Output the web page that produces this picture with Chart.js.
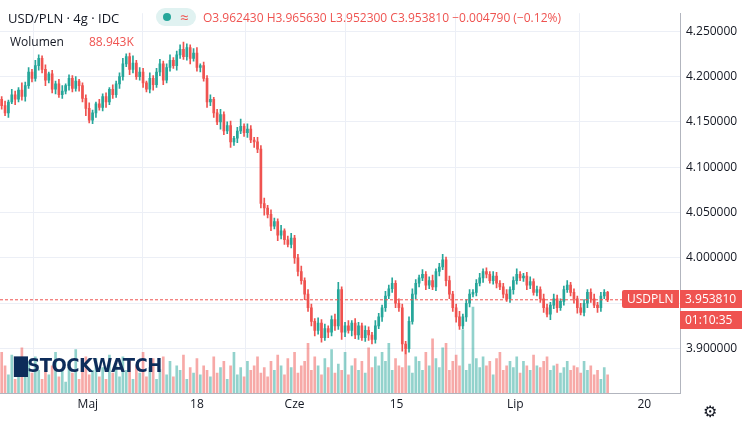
<!DOCTYPE html>
<html><head><meta charset="utf-8">
<script src="https://cdn.jsdelivr.net/npm/chart.js@4"></script>
<style>
body{margin:0;width:742px;height:422px;overflow:hidden;background:#fff;font-family:"Open Sans",Roboto,sans-serif;position:relative}
#c{position:absolute;left:0;top:0}
.t{position:absolute;font-size:12px;white-space:nowrap}
.tag{position:absolute;color:#fff;font-size:12px;background:#ef5350;height:18px;line-height:18px;padding:0 5px}
</style></head><body>
<canvas id="c" width="742" height="422"></canvas>
<div class="t" style="left:8px;top:9px;font-size:13px;color:#131722">USD/PLN · 4g · IDC</div>
<div class="t" style="left:156px;top:8px;width:40px;height:18px;background:#e0f2f1;border-radius:9px"></div>
<div class="t" style="left:163px;top:13px;width:8px;height:8px;border-radius:50%;background:#26a69a"></div>
<div class="t" style="left:180px;top:7px;color:#ef5350;font-size:15px">≈</div>
<div class="t" style="left:203px;top:9px;color:#ef5350">O3.962430 H3.965630 L3.952300 C3.953810 −0.004790 (−0.12%)</div>
<div class="t" style="left:10px;top:33px;color:#131722">Wolumen</div>
<div class="t" style="left:89px;top:33px;color:#ef5350">88.943K</div>
<div class="t" style="left:14px;top:353px;font-size:20px;font-weight:bold;color:#0d2c5a;font-family:'Liberation Sans Narrow','DejaVu Sans Condensed',sans-serif;letter-spacing:-0.5px">▇STOCKWATCH</div>
<div class="tag" style="left:622px;top:290px;border-radius:2px 0 0 2px">USDPLN</div>
<div class="tag" style="left:680px;top:290px;width:52px">3.953810</div>
<div class="tag" style="left:680px;top:311px;width:52px">01:10:35</div>
<div class="t" style="left:703px;top:400px;font-size:16px;color:#131722">⚙</div>
<script>
const closes=[4.168,4.160,4.172,4.180,4.175,4.185,4.178,4.190,4.205,4.198,
4.212,4.220,4.208,4.196,4.203,4.186,4.192,4.180,4.184,4.190,
4.198,4.187,4.195,4.190,4.176,4.165,4.152,4.160,4.170,4.166,
4.178,4.172,4.186,4.180,4.192,4.200,4.214,4.222,4.208,4.215,
4.200,4.205,4.193,4.186,4.198,4.191,4.205,4.214,4.196,4.210,
4.218,4.212,4.224,4.230,4.222,4.232,4.220,4.226,4.210,4.212,
4.198,4.172,4.175,4.160,4.150,4.158,4.140,4.146,4.128,4.132,
4.140,4.145,4.138,4.142,4.130,4.128,4.120,4.060,4.055,4.048,
4.035,4.040,4.025,4.030,4.020,4.015,4.022,4.000,3.985,3.975,
3.960,3.945,3.930,3.920,3.928,3.912,3.922,3.918,3.932,3.925,
3.965,3.918,3.925,3.920,3.928,3.915,3.925,3.912,3.920,3.915,
3.910,3.925,3.935,3.945,3.958,3.966,3.972,3.950,3.945,3.905,
3.900,3.930,3.960,3.972,3.978,3.982,3.970,3.975,3.968,3.985,
3.990,3.998,3.975,3.960,3.945,3.935,3.925,3.935,3.950,3.960,
3.962,3.972,3.978,3.985,3.982,3.975,3.980,3.972,3.968,3.960,
3.955,3.965,3.975,3.982,3.978,3.980,3.970,3.974,3.962,3.965,
3.955,3.945,3.938,3.948,3.955,3.945,3.952,3.965,3.970,3.962,
3.955,3.945,3.940,3.950,3.962,3.955,3.948,3.945,3.958,3.962,3.9538];
const firstOpen=4.175;
// wick extensions in 0.001 units
const wickUp=[3,5,2,6,4,3,8,4,5,3,6,4,3,5,2,4,3,5,6,2,4,3,5,2,3,4,6,3,2,5,3,4,2,5,3,4,6,3,4,8,
3,5,4,2,6,3,4,5,3,4,6,3,4,5,8,4,3,5,6,2,4,3,5,2,4,6,3,4,5,2,4,8,3,6,4,3,5,4,6,3,
5,4,3,6,2,4,5,3,4,6,3,5,4,3,6,4,5,3,4,6,8,3,4,6,3,5,4,3,5,4,3,6,4,3,5,4,6,3,5,4,
3,5,6,4,3,5,3,4,6,3,4,6,3,5,3,4,6,3,4,5,3,4,5,3,4,3,5,4,3,4,5,3,4,6,3,3,4,5,3,4,
3,5,4,3,5,4,3,4,5,3,4,3,5,4,3,4,5,3,4,3,1];
const wickDn=[4,3,5,2,6,3,4,5,3,4,3,5,4,6,3,4,5,3,4,3,5,4,3,6,4,8,3,4,5,3,4,6,3,4,3,5,4,3,6,4,
3,4,5,3,4,6,3,4,5,3,4,3,5,4,3,4,6,3,4,5,3,6,4,5,3,8,4,3,6,4,5,3,4,5,3,6,4,5,8,4,
5,3,6,4,5,3,4,6,5,4,6,4,5,6,4,5,3,6,4,5,4,8,5,3,6,4,5,3,4,6,5,4,3,5,4,3,4,5,4,8,
6,4,3,5,4,3,5,4,3,4,5,3,6,5,4,6,4,3,5,4,3,4,3,5,4,3,4,5,3,4,3,4,5,4,3,4,5,4,3,4,
4,5,3,6,4,5,3,4,3,4,5,6,3,4,5,4,3,5,4,3,2];
const volumes=[45,30,20,42,15,28,50,18,35,22,40,25,15,38,20,30,45,18,26,12,35,22,48,15,30,40,20,25,38,18,
28,15,42,22,30,18,40,25,35,15,30,22,45,18,28,38,15,26,40,20,35,18,30,25,42,15,28,22,38,20,
30,25,18,40,22,28,35,15,30,45,20,28,18,35,25,30,40,22,28,18,35,25,42,30,20,38,28,45,22,30,
35,55,25,40,30,20,38,28,48,22,32,25,45,20,30,38,25,35,22,50,28,40,30,45,35,55,25,38,30,28,
48,30,22,40,35,25,45,30,60,38,28,50,55,25,35,42,30,70,25,32,95,38,28,40,30,35,20,38,45,25,
30,35,28,40,22,35,30,25,42,30,28,35,40,25,30,32,22,28,35,25,30,28,22,35,25,30,20,25,15,28,20];
const tickIdx=[26.1,58.5,87.5,117.8,153.1,191.4];
const tickLbl=['Maj','18','Cze','15','Lip','20'];
const priceTicks=[3.90,3.95,4.00,4.05,4.10,4.15,4.20,4.25];

const TEAL='#26a69a',RED='#ef5350';
const opens=closes.map((c,i)=>i?closes[i-1]:firstOpen);
const up=closes.map((c,i)=>c>=opens[i]);
const idx=closes.map((c,i)=>i+0.5);
const bodies=closes.map((c,i)=>({x:idx[i],y:[opens[i],c]}));
const wicks=closes.map((c,i)=>({x:idx[i],y:[Math.min(opens[i],c)-wickDn[i]/1000,Math.max(opens[i],c)+wickUp[i]/1000]}));
const vols=volumes.map((v,i)=>({x:idx[i],y:v}));
const col=up.map(u=>u?TEAL:RED);
const vcol=up.map(u=>u?'rgba(38,166,154,0.5)':'rgba(239,83,80,0.5)');

const dashLine={id:'dl',afterDatasetsDraw(ch){const y=ch.scales.y.getPixelForValue(closes[closes.length-1]);const c=ch.ctx;c.save();c.strokeStyle=RED;c.setLineDash([3,2]);c.lineWidth=1;c.beginPath();c.moveTo(0,y);c.lineTo(ch.chartArea.right,y);c.stroke();c.restore();}};

new Chart(document.getElementById('c'),{
 type:'bar',
 data:{datasets:[
  {data:vols,yAxisID:'v',backgroundColor:vcol,barThickness:2,grouped:false,order:3},
  {data:wicks,backgroundColor:col,barThickness:1,grouped:false,order:2},
  {data:bodies,backgroundColor:col,barThickness:2,grouped:false,order:1,borderSkipped:false}
 ]},
 options:{animation:false,responsive:false,parsing:{xAxisKey:'x',yAxisKey:'y'},
  layout:{padding:0},
  plugins:{legend:{display:false},tooltip:{enabled:false}},
  scales:{
   x:{type:'linear',min:0,max:202,offset:false,
     afterBuildTicks(s){s.ticks=tickIdx.map(v=>({value:v}));},
     afterFit(s){s.height=29;},
     ticks:{autoSkip:false,maxRotation:0,color:'#131722',font:{size:12,family:'Open Sans'},padding:4,callback:(v,i)=>tickLbl[i]},
     grid:{color:'#eceff6',drawTicks:false},border:{color:'#b2b5be'}},
   y:{position:'right',min:3.851,max:4.2699,
     afterBuildTicks(s){s.ticks=priceTicks.map(v=>({value:v}));},
     afterFit(s){s.width=62;},
     ticks:{color:'#131722',font:{size:12,family:'Open Sans'},padding:6,callback:v=>v.toFixed(6)},
     grid:{color:'#eceff6',drawTicks:false},border:{color:'#b2b5be'}},
   v:{display:false,min:0,max:420}
  }},
 plugins:[dashLine]
});
</script></body></html>
